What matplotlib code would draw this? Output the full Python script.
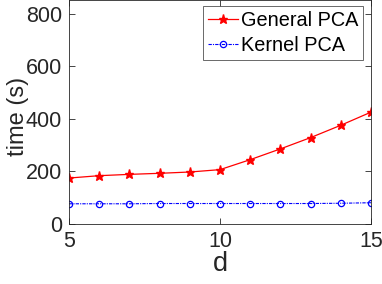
import numpy as np
import matplotlib
matplotlib.use('Agg')
import matplotlib.pyplot as plt

# values
d = [5, 6, 7, 8, 9, 10, 11, 12, 13, 14, 15]
general_pca = [175, 184, 189, 193, 198, 207, 245, 286, 329, 376, 426]
kernel_pca = [77, 77, 77, 78, 78, 78, 78, 78, 78, 79, 81]

plt.rcParams['font.family'] = ['Liberation Sans', 'DejaVu Sans']

fig = plt.figure(figsize=(3.82, 2.84), dpi=100)
ax = fig.add_axes([69/382, 60/284, 302/382, 224/284])

ax.plot(d, general_pca, color='red', marker='*', markersize=6.5, lw=0.9,
        label='General PCA')
ax.plot(d, kernel_pca, color='blue', marker='o', markersize=4.5, lw=0.8,
        markerfacecolor='none', markeredgewidth=0.9, dashes=(3, 1, 1, 1),
        label='Kernel PCA')

ax.set_xlim(5, 15)
ax.set_ylim(0, 853)
ax.set_xticks([5, 10, 15])
ax.set_yticks([0, 200, 400, 600, 800])
ax.set_xlabel('d', fontsize=19.5, color='#262626', labelpad=-1)
ax.set_ylabel('time (s)', fontsize=17, color='#262626')
ax.yaxis.set_label_coords(-0.133, 0.48)
ax.tick_params(direction='in', top=True, right=True, labelsize=15.5,
               colors='#262626', length=4, width=0.6, pad=5)
for s in ax.spines.values():
    s.set_color('#262626')
    s.set_linewidth(0.6)

leg = ax.legend(loc='upper right', fontsize=14.3, frameon=True, fancybox=False,
                handlelength=1.5, handletextpad=0.15, borderpad=0.25,
                labelspacing=0.3, borderaxespad=0,
                bbox_to_anchor=(363/382, 278/284), bbox_transform=fig.transFigure)
leg.get_frame().set_edgecolor('#262626')
leg.get_frame().set_linewidth(0.6)

fig.savefig('out.png', dpi=100)
